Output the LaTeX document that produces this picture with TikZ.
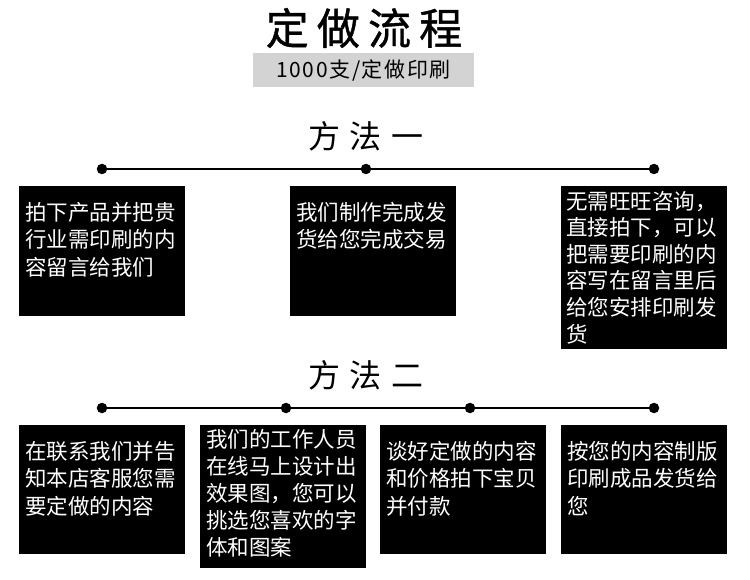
\documentclass[tikz,border=0pt]{standalone}
\usepackage{fontspec}
\setmainfont{Noto Sans CJK SC}
\usetikzlibrary{positioning}
\definecolor{subgray}{RGB}{211,211,211}

\begin{document}
\begin{tikzpicture}[x=1pt, y=-1pt, thick,
    every node/.style={inner sep=0pt, outer sep=0pt},
    dot/.style={circle, fill=black, minimum size=10.5pt},
    conn/.style={line width=1.5pt},
    card/.style={fill=black, anchor=north west, minimum width=166pt},
    cardtext/.style={anchor=north west, text=white, text width=162pt, align=left,
        font=\fontsize{21.5}{27.5}\selectfont},
    heading/.style={font=\fontsize{32}{32}\selectfont\addfontfeatures{LetterSpace=30}}]

    \useasboundingbox (0,0) rectangle (750,580);

    % Draw the title
    \node[font=\fontsize{43}{43}\selectfont\addfontfeatures{LetterSpace=19, FakeBold=1}] (title) at (364,28) {定做流程};
    \node[fill=subgray, minimum width=221pt, minimum height=34pt,
        font=\fontsize{21}{21}\selectfont\addfontfeatures{LetterSpace=8}] (sub) at (363.5,70) {1000支/定做印刷};

    % Method one
    \node[heading] (m1) at (366,136) {方法一};
    \node[dot] (a1) at (102,169) {};
    \node[dot] (a2) at (366,169) {};
    \node[dot] (a3) at (654,169) {};
    \draw[conn] (a1) -- (a2) -- (a3);

    % Draw the boxes of method one
    \node[card, minimum height=130pt] (b1) at (19,186) {};
    \node[cardtext] (t1) at ([xshift=6pt, yshift=-16pt]b1.north west) {拍下产品并把贵\\行业需印刷的内\\容留言给我们};

    \node[card, minimum height=130pt] (b2) at (290,186) {};
    \node[cardtext] (t2) at ([xshift=6pt, yshift=-16pt]b2.north west) {我们制作完成发\\货给您完成交易};

    \node[card, minimum height=163pt] (b3) at (561,186) {};
    \node[cardtext, font=\fontsize{21.5}{26.6}\selectfont] (t3) at ([xshift=5pt, yshift=-5pt]b3.north west)
        {无需旺旺咨询，\\直接拍下，可以\\把需要印刷的内\\容写在留言里后\\给您安排印刷发\\货};

    % Method two
    \node[heading] (m2) at (366,375) {方法二};
    \node[dot] (d1) at (102,408) {};
    \node[dot] (d2) at (286,408) {};
    \node[dot] (d3) at (470,408) {};
    \node[dot] (d4) at (654,408) {};
    \draw[conn] (d1) -- (d2) -- (d3) -- (d4);

    % Draw the boxes of method two
    \node[card, minimum height=129pt] (c1) at (19,425) {};
    \node[cardtext] (u1) at ([xshift=6pt, yshift=-16pt]c1.north west) {在联系我们并告\\知本店客服您需\\要定做的内容};

    \node[card, minimum height=143pt] (c2) at (200,425) {};
    \node[cardtext, font=\fontsize{21.5}{27}\selectfont] (u2) at ([xshift=6pt, yshift=-4pt]c2.north west)
        {我们的工作人员\\在线马上设计出\\效果图，您可以\\挑选您喜欢的字\\体和图案};

    \node[card, minimum height=129pt] (c3) at (380,425) {};
    \node[cardtext] (u3) at ([xshift=6pt, yshift=-16pt]c3.north west) {谈好定做的内容\\和价格拍下宝贝\\并付款};

    \node[card, minimum height=129pt] (c4) at (561,425) {};
    \node[cardtext] (u4) at ([xshift=6pt, yshift=-16pt]c4.north west) {按您的内容制版\\印刷成品发货给\\您};

\end{tikzpicture}
\end{document}
